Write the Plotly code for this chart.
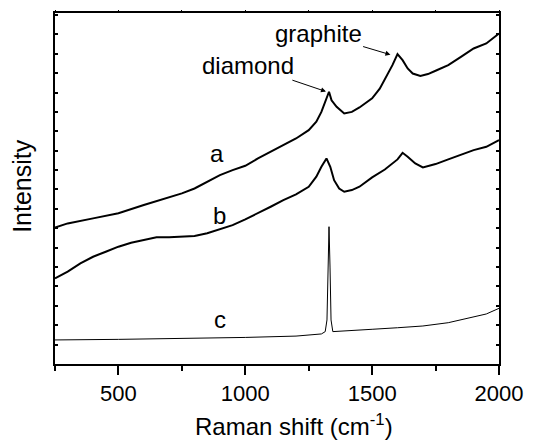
import plotly.graph_objects as go

# Raman shift (cm^-1) sample positions and intensities (arbitrary units)
xa = [250, 300, 400, 500, 600, 700, 750, 800, 850, 900, 950, 1000, 1050, 1100, 1150, 1200,
      1250, 1280, 1300, 1320, 1330, 1340, 1360, 1390, 1420, 1450, 1500, 1530, 1560, 1580,
      1600, 1620, 1640, 1660, 1690, 1720, 1750, 1800, 1850, 1900, 1950, 2000]
ya = [7.03, 7.25, 7.51, 7.77, 8.20, 8.59, 8.80, 9.05, 9.40, 9.74, 10.0, 10.22, 10.6, 10.94, 11.29, 11.63,
      12.06, 12.49, 13.0, 13.7, 14.04, 13.6, 13.26, 12.92, 13.0, 13.23, 13.7, 14.2, 14.9, 15.41,
      15.98, 15.67, 15.24, 14.98, 14.85, 14.95, 15.12, 15.41, 15.84, 16.27, 16.53, 17.04]

xb = [250, 300, 350, 400, 450, 500, 550, 600, 650, 700, 750, 800, 850, 900, 950, 1000, 1050,
      1100, 1150, 1200, 1250, 1280, 1300, 1320, 1335, 1350, 1370, 1390, 1420, 1450, 1500, 1550,
      1600, 1620, 1640, 1670, 1700, 1750, 1800, 1850, 1900, 1950, 2000]
yb = [4.41, 4.76, 5.19, 5.53, 5.79, 6.05, 6.25, 6.39, 6.53, 6.53, 6.56, 6.60, 6.74, 6.94, 7.16, 7.46, 7.77,
      8.11, 8.45, 8.75, 9.14, 9.66, 10.17, 10.6, 10.17, 9.48, 9.05, 8.88, 8.97, 9.14, 9.62, 10.03,
      10.55, 10.89, 10.69, 10.34, 10.14, 10.31, 10.55, 10.77, 11.03, 11.2, 11.55]

xc = [250, 500, 1000, 1200, 1300, 1315, 1322, 1326, 1330, 1334, 1338, 1345, 1400, 1500, 1600,
      1700, 1800, 1900, 1950, 2000]
yc = [1.24, 1.27, 1.37, 1.44, 1.55, 1.67, 2.27, 5.0, 7.08, 5.0, 2.27, 1.67, 1.70, 1.79, 1.87,
      1.96, 2.13, 2.41, 2.58, 2.87]

curve_labels = ["a", "b", "c"]
label_x = [887, 900, 900]
label_y = [10.85, 7.68, 2.27]

peak_names = ["diamond", "graphite"]
peak_text_x = [1011, 1287]
peak_text_y = [15.41, 17.06]
arrow_head_x = [1318, 1572]
arrow_head_y = [14.05, 15.95]

x_ticks = [500, 1000, 1500, 2000]
x_title = "Raman shift (cm<sup>-1</sup>)"
y_title = "Intensity"

FONT = "Liberation Sans, Arial, sans-serif"

fig = go.Figure()
fig.add_trace(go.Scatter(x=xa, y=ya, mode="lines", line=dict(color="black", width=2), showlegend=False))
fig.add_trace(go.Scatter(x=xb, y=yb, mode="lines", line=dict(color="black", width=2), showlegend=False))
fig.add_trace(go.Scatter(x=xc, y=yc, mode="lines", line=dict(color="black", width=1), showlegend=False))
# invisible trace on top axis for top ticks
fig.add_trace(go.Scatter(x=[250, 2000], y=[None, None], xaxis="x2", mode="lines", showlegend=False))

annotations = []
for t, x, y in zip(curve_labels, label_x, label_y):
    annotations.append(dict(x=x, y=y, text=t, showarrow=False, font=dict(family=FONT, size=24, color="black")))
for t, tx, ty, hx, hy in zip(peak_names, peak_text_x, peak_text_y, arrow_head_x, arrow_head_y):
    annotations.append(dict(x=hx, y=hy, ax=tx, ay=ty, axref="x", ayref="y", text=t, showarrow=True,
                            arrowhead=2, arrowsize=1, arrowwidth=1, arrowcolor="black",
                            font=dict(family=FONT, size=24, color="black")))
annotations.append(dict(xref="paper", yref="paper", x=0.538, y=-0.222, text=x_title, showarrow=False,
                        xanchor="center", yanchor="bottom", font=dict(family=FONT, size=24, color="black")))
annotations.append(dict(xref="paper", yref="paper", x=-0.074, y=0.508, text=y_title, showarrow=False,
                        textangle=-90, xanchor="center", yanchor="middle",
                        font=dict(family=FONT, size=25, color="black")))

fig.update_layout(
    width=541, height=442,
    margin=dict(l=55, r=42, t=13, b=78),
    paper_bgcolor="white", plot_bgcolor="white",
    font=dict(family=FONT, size=22, color="black"),
    annotations=annotations,
    xaxis=dict(range=[250, 2000], tickvals=x_ticks, ticks="outside", ticklen=9, tickwidth=1.5,
               tickcolor="black", showline=True, linecolor="black", linewidth=1.5, mirror=True,
               showgrid=False, zeroline=False, automargin=False,
               minor=dict(tickvals=[250, 750, 1250, 1750], ticks="outside", ticklen=5, tickwidth=1.5, tickcolor="black"),
               tickfont=dict(size=22)),
    xaxis2=dict(range=[250, 2000], overlaying="x", side="top", tickvals=[250, 500, 750, 1000, 1250, 1500, 1750, 2000],
                ticks="outside", ticklen=2, tickwidth=1, tickcolor="black", showticklabels=False,
                showgrid=False, zeroline=False, showline=False, automargin=False),
    yaxis=dict(range=[0, 18.1], tick0=0, dtick=1, ticks="inside", ticklen=3, tickwidth=1.5, tickcolor="black",
               showticklabels=False, showline=True, linecolor="black", linewidth=1.5, mirror="ticks",
               showgrid=False, zeroline=False, automargin=False),
)

fig.write_html("out.html")
